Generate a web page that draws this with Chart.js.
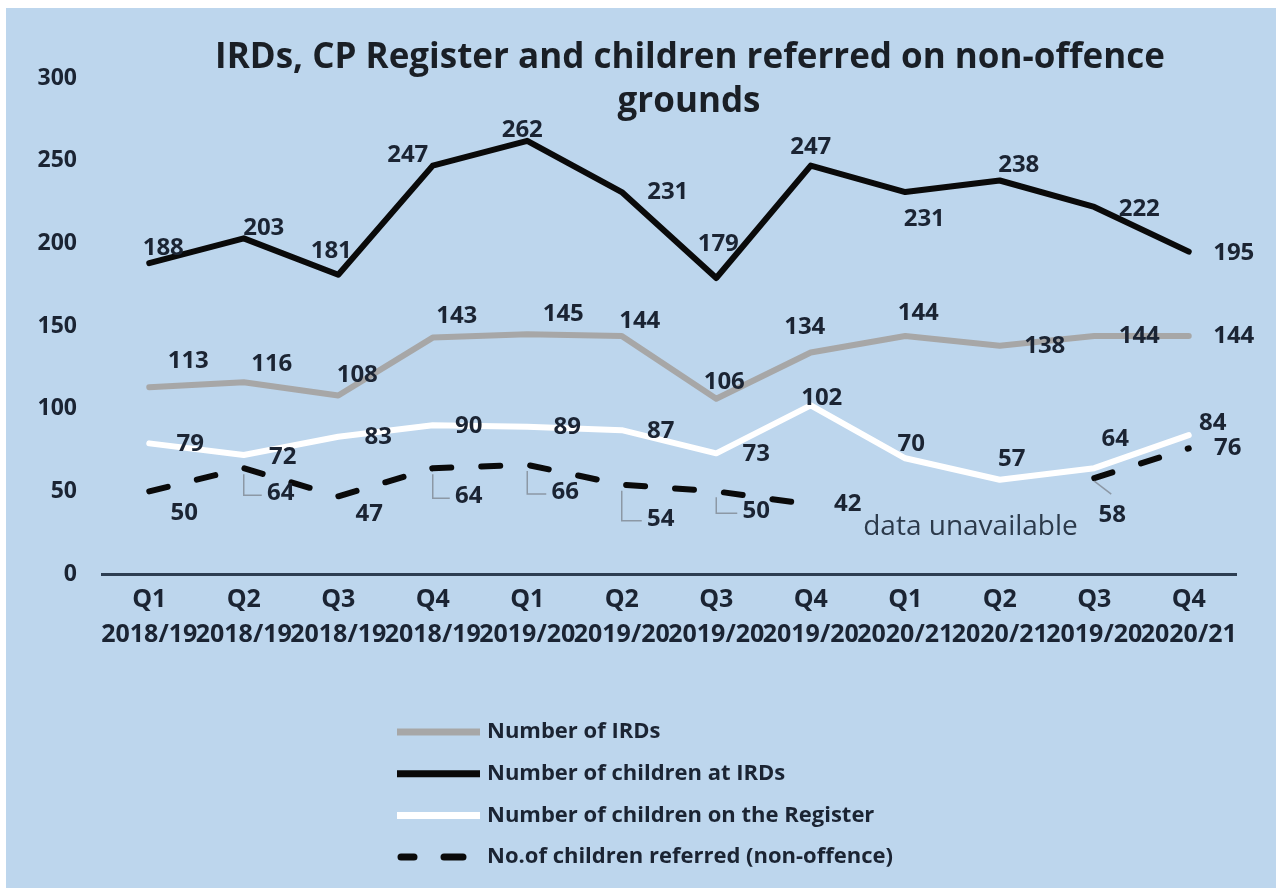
<!DOCTYPE html>
<html>
<head>
<meta charset="utf-8">
<script src="https://cdn.jsdelivr.net/npm/chart.js@4.4.1/dist/chart.umd.min.js"></script>
<style>
  html, body { margin: 0; padding: 0; background: #ffffff; }
  #wrap { position: absolute; left: 6px; top: 8px; width: 1270px; height: 880px; background: #bdd6ed; }
</style>
</head>
<body>
<div id="wrap"><canvas id="canvas"></canvas></div>
<script>
var quarters = ['Q1', 'Q2', 'Q3', 'Q4', 'Q1', 'Q2', 'Q3', 'Q4', 'Q1', 'Q2', 'Q3', 'Q4'];
var years = ['2018/19', '2018/19', '2018/19', '2018/19', '2019/20', '2019/20', '2019/20', '2019/20', '2020/21', '2020/21', '2019/20', '2020/21'];

var irds = [113, 116, 108, 143, 145, 144, 106, 134, 144, 138, 144, 144];
var childrenAtIrds = [188, 203, 181, 247, 262, 231, 179, 247, 231, 238, 222, 195];
var onRegister = [79, 72, 83, 90, 89, 87, 73, 102, 70, 57, 64, 84];
var referred = [50, 64, 47, 64, 66, 54, 50, 42, null, null, 58, 76];

var yTicks = [0, 50, 100, 150, 200, 250, 300];

// where each value label sits relative to its point (px)
var offIrds = [[39,-26],[28,-18],[19,-20],[24,-21],[36,-20],[18,-15],[8,-17],[-6,-25],[13,-23],[45,0],[45,0],[45,0]];
var offChildren = [[14,-15],[20,-10],[-7,-24],[-25,-10],[-5,-11],[46,0],[2,-34],[0,-18],[19,27],[19,-15],[45,2],[45,2]];
var offRegister = [[41,1],[39,2],[40,0],[36,1],[40,0],[39,1],[40,1],[11,-7],[6,-14],[12,-21],[21,-29],[24,-12]];
var offReferred = [[35,22],[37,25],[31,18],[36,28],[38,27],[39,34],[40,20],[37,0],null,null,[18,37],[39,0]];
// leader lines from the dashed series to some of its labels
var leadReferred = [null, 'L', null, 'L', 'L', 'L', 'L', null, null, null, 'diag', null];

var labelColor = '#1b2433';
var fontFam = '"Open Sans", "DejaVu Sans", sans-serif';

var labels = quarters.map(function (q, i) { return [q, years[i]]; });

var valueLabels = {
    id: 'valueLabels',
    afterDatasetsDraw: function (chart) {
        var ctx = chart.ctx;
        ctx.save();
        ctx.font = 'bold 24px ' + fontFam;
        ctx.textAlign = 'center';
        ctx.textBaseline = 'middle';
        chart.data.datasets.forEach(function (ds, di) {
            var meta = chart.getDatasetMeta(di);
            meta.data.forEach(function (pt, i) {
                var v = ds.data[i];
                if (v === null) return;
                var o = ds.labelOffsets[i] || [0, -15];
                var tx = pt.x + o[0], ty = pt.y + o[1];
                var lead = ds.leaders ? ds.leaders[i] : null;
                if (lead) {
                    ctx.beginPath();
                    ctx.strokeStyle = '#8c98a5';
                    ctx.lineWidth = 1.5;
                    if (lead === 'L') {
                        ctx.moveTo(pt.x, pt.y + 6);
                        ctx.lineTo(pt.x, ty + 2);
                        ctx.lineTo(tx - 19, ty + 2);
                    } else {
                        ctx.moveTo(pt.x, pt.y + 3);
                        ctx.lineTo(pt.x + 17, pt.y + 16);
                    }
                    ctx.stroke();
                }
                ctx.fillStyle = labelColor;
                ctx.fillText(String(v), tx, ty);
            });
        });
        ctx.restore();
    }
};

var extras = {
    id: 'extras',
    afterDraw: function (chart) {
        var ctx = chart.ctx;
        var xs = chart.scales.x, ys = chart.scales.y;
        ctx.save();
        // title
        ctx.fillStyle = '#1a1f26';
        ctx.textAlign = 'center';
        ctx.textBaseline = 'middle';
        ctx.font = 'bold 35px ' + fontFam;
        ctx.fillText('IRDs, CP Register and children referred on non-offence', 684, 50);
        ctx.fillText('grounds', 683, 94);

        // note for the gap in the dashed series
        ctx.font = '28px ' + fontFam;
        ctx.fillStyle = '#2c3a4b';
        var nx = (xs.getPixelForValue(8) + xs.getPixelForValue(9)) / 2 + 18;
        ctx.fillText('data unavailable', nx, ys.getPixelForValue(28.5));

        // legend
        var lx = 391, lw = 83, ly = 724, gap = 41.7;
        ctx.font = 'bold 22px ' + fontFam;
        ctx.textAlign = 'left';
        chart.data.datasets.forEach(function (ds, i) {
            var y = ly + i * gap;
            ctx.beginPath();
            ctx.strokeStyle = ds.borderColor;
            ctx.lineWidth = 7;
            ctx.setLineDash(ds.borderDash || []);
            ctx.lineCap = ds.borderDash ? 'round' : 'butt';
            ctx.lineDashOffset = ds.borderDash ? 6 : 0;
            ctx.moveTo(lx + (ds.borderDash ? 4 : 0), y);
            ctx.lineTo(lx + lw - (ds.borderDash ? 4 : 0), y);
            ctx.stroke();
            ctx.setLineDash([]);
            ctx.fillStyle = labelColor;
            ctx.fillText(ds.label, lx + lw + 7, y);
        });
        ctx.restore();
    }
};

var config = {
    type: 'line',
    data: {
        labels: labels,
        datasets: [{
            label: 'Number of IRDs',
            data: irds,
            borderColor: '#a7a7a7',
            borderWidth: 6,
            labelOffsets: offIrds,
            order: 4
        }, {
            label: 'Number of children at IRDs',
            data: childrenAtIrds,
            borderColor: '#0a0a0a',
            borderWidth: 6,
            labelOffsets: offChildren,
            order: 3
        }, {
            label: 'Number of children on the Register',
            data: onRegister,
            borderColor: '#ffffff',
            borderWidth: 6,
            labelOffsets: offRegister,
            order: 2
        }, {
            label: 'No.of children referred (non-offence)',
            data: referred,
            borderColor: '#0a0a0a',
            borderWidth: 6,
            borderDash: [19, 30],
            labelOffsets: offReferred,
            leaders: leadReferred,
            order: 1
        }]
    },
    options: {
        responsive: true,
        maintainAspectRatio: false,
        animation: false,
        layout: { padding: { top: 70, left: 20, right: 40, bottom: 228 } },
        elements: {
            point: { radius: 0, hoverRadius: 0 },
            line: { tension: 0, borderCapStyle: 'round', borderJoinStyle: 'round', fill: false }
        },
        spanGaps: false,
        plugins: {
            legend: { display: false },
            title: { display: false },
            tooltip: { enabled: false }
        },
        scales: {
            x: {
                offset: true,
                grid: { display: false, drawTicks: false },
                border: { display: true, color: '#2d3e52', width: 3 },
                ticks: {
                    autoSkip: false, maxRotation: 0, minRotation: 0, padding: 8,
                    color: labelColor,
                    font: { family: fontFam, size: 25, weight: 'bold', lineHeight: 1.4 }
                }
            },
            y: {
                min: 0, max: 300,
                afterBuildTicks: function (s) { s.ticks = yTicks.map(function (v) { return { value: v }; }); },
                afterFit: function (s) { s.width = 76; },
                grid: { display: false, drawTicks: false },
                border: { display: false },
                ticks: {
                    padding: 25,
                    color: labelColor,
                    font: { family: fontFam, size: 23, weight: 'bold' }
                }
            }
        }
    },
    plugins: [valueLabels, extras]
};

var chart = new Chart(document.getElementById('canvas'), config);
</script>
</body>
</html>
